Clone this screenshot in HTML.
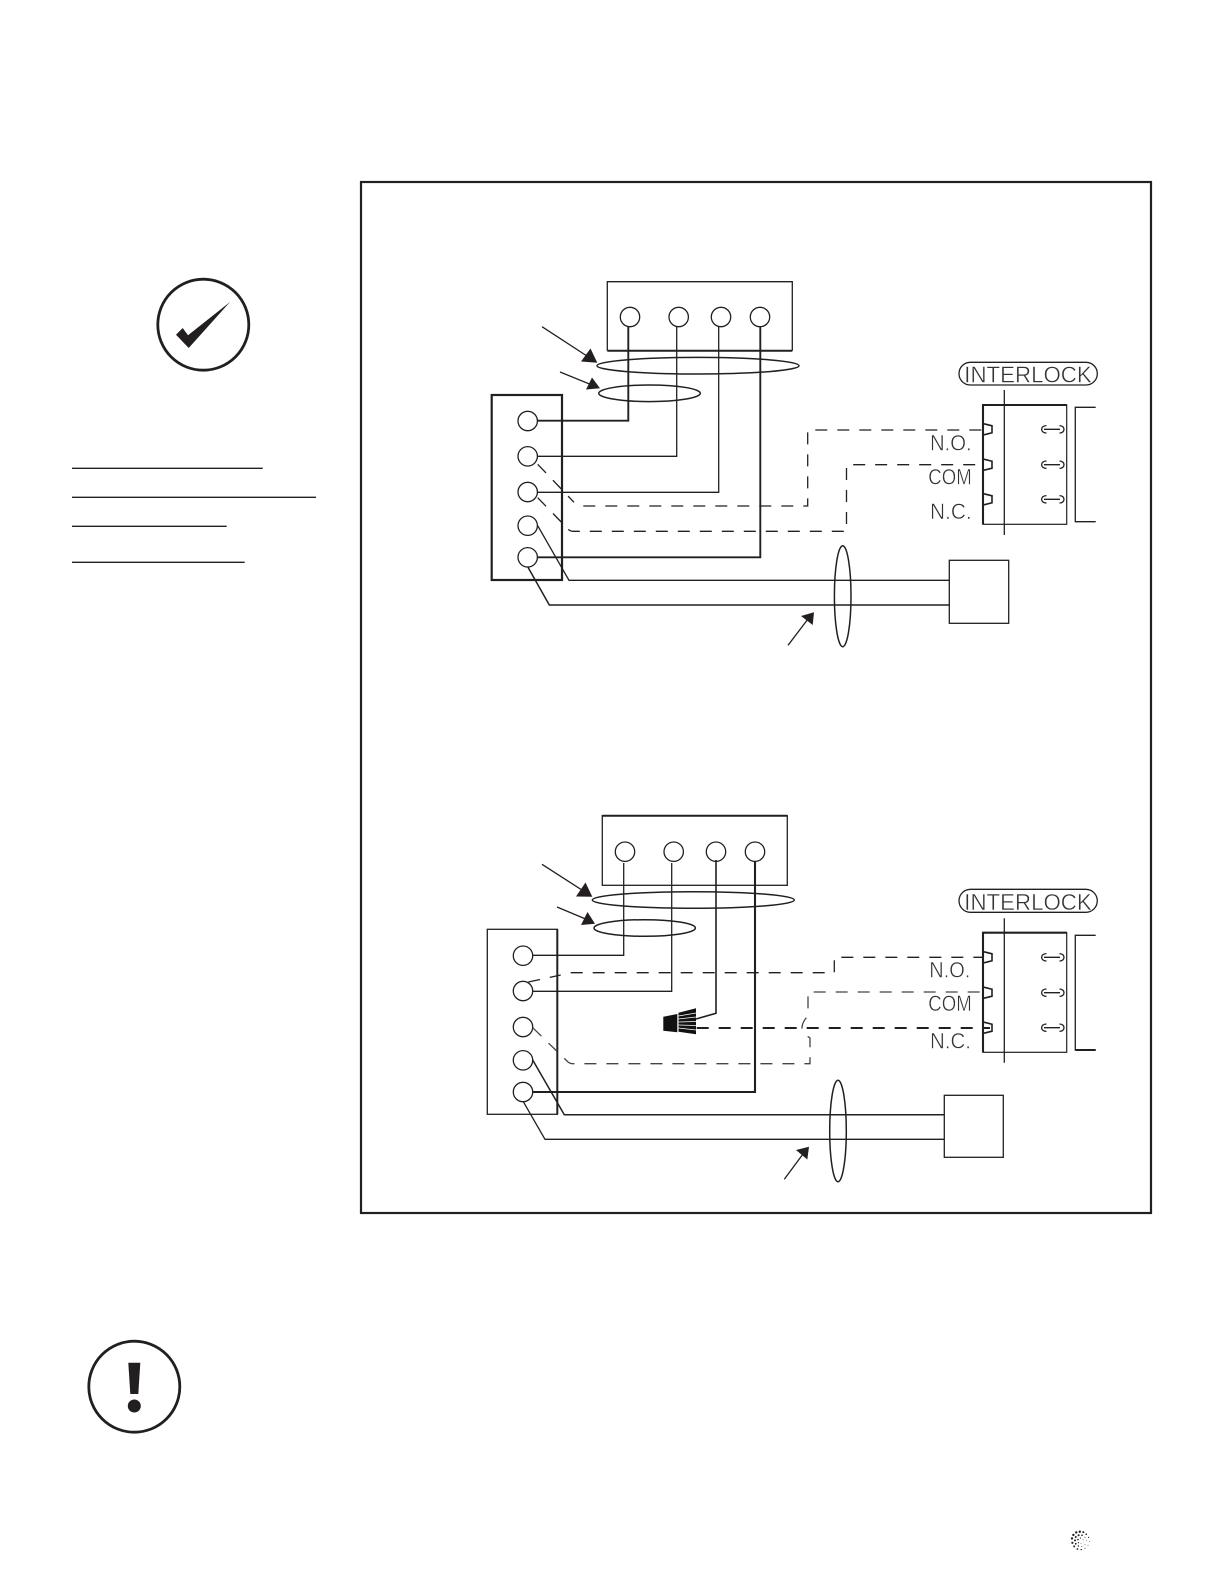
<!DOCTYPE html>
<html><head><meta charset="utf-8"><title>Wiring diagram</title>
<style>html,body{margin:0;padding:0;background:#fff}svg{display:block}
text{font-family:"Liberation Sans",sans-serif;fill:#333;stroke:#fff;stroke-width:.45}</style></head>
<body>
<svg xmlns="http://www.w3.org/2000/svg" width="1224" height="1584" viewBox="0 0 1224 1584">
<defs>
<g id="t" fill="none" stroke="#231f20" stroke-width="1.3">
<path d="M984,-5.5 L992,-3.5 V3.5 L984,5.5" stroke-width="1.6"/>
<path d="M1046.5,-3.7 C1040,-3.7 1040,3.7 1046.5,3.7 M1044,0 H1060 M1059.5,-3.7 C1065.5,-3.7 1065.5,3.7 1059.5,3.7"/>
</g>
</defs>
<rect x="0" y="0" width="1224" height="1584" fill="#fff"/>
<rect x="361" y="182" width="790" height="1031" fill="none" stroke="#231f20" stroke-width="2.2"/>

<!-- check icon -->
<circle cx="203.3" cy="324.7" r="45.5" fill="none" stroke="#231f20" stroke-width="2.8"/>
<polygon points="176,334.7 182.7,328 188,335.3 230,302 188.7,348" fill="#231f20"/>
<g stroke="#231f20" stroke-width="1.4">
<line x1="72" y1="468.3" x2="262.7" y2="468.3"/>
<line x1="72" y1="497.3" x2="316" y2="497.3"/>
<line x1="72" y1="526.3" x2="226.7" y2="526.3"/>
<line x1="72" y1="562.3" x2="244.7" y2="562.3"/>
</g>

<!-- warning icon -->
<circle cx="134.3" cy="1386.7" r="45.5" fill="none" stroke="#231f20" stroke-width="2.8"/>
<polygon points="128.3,1362.7 140.3,1362.7 138.3,1394 130.3,1394" fill="#231f20"/>
<circle cx="134.3" cy="1406" r="6.5" fill="#231f20"/>

<!-- TOP DIAGRAM -->
<g fill="none" stroke="#231f20" stroke-width="1.3">
<path d="M607.3,350.7 V281.7 H792.3 V350.7"/>
<line x1="607.3" y1="350.7" x2="792.3" y2="350.7" stroke-width="2"/>
<circle cx="630" cy="317" r="9.7"/><circle cx="678.7" cy="317" r="9.7"/><circle cx="721" cy="317" r="9.7"/><circle cx="760" cy="317" r="9.7"/>
<ellipse cx="698" cy="365.7" rx="101" ry="8.3" stroke-width="1.5"/>
<ellipse cx="649.5" cy="393.3" rx="50.8" ry="8.3" stroke-width="1.5"/>
<rect x="491.7" y="395" width="70.3" height="185" stroke-width="2.2"/>
<circle cx="527.7" cy="421" r="9.7"/><circle cx="527.7" cy="456.3" r="9.7"/><circle cx="527.7" cy="492" r="9.7"/><circle cx="527.7" cy="525.7" r="9.7"/><circle cx="527.7" cy="557.3" r="9.7"/>
<path d="M628.3,326.7 V420.7 H537.7" stroke-width="1.9"/>
<path d="M676.7,326.7 V456.3 H537.7"/>
<path d="M718.7,326.7 V492.3 H537.7"/>
<path d="M760.3,326.7 V557.3 H537.7" stroke-width="1.9"/>
<path d="M537.7,525.7 L569,580.3 H949.3"/>
<path d="M527.7,566.7 L549.3,605 H949.3" stroke-width="1.5"/>
<ellipse cx="842.7" cy="596.2" rx="8.3" ry="50.5" stroke-width="1.5"/>
<rect x="949.3" y="560.3" width="59.4" height="63"/>
<path d="M537.7,464.3 L574,502.3 M583.3,506 H807.7 V430 H984" stroke-dasharray="12 10"/>
<path d="M537.7,497.7 L568,529 Q570,531.3 573,531.3 H846.5 V464.7 H984" stroke-dasharray="12 10"/>
<path d="M542,326.7 L590,358 M560,372 L592,385 M788,645.3 L808,619"/>
<!-- relay -->
<rect x="983" y="405" width="83.7" height="119.3" stroke-width="1.2"/>
<path d="M983,524.3 V405 H1066.7" stroke-width="2.1"/>
<line x1="1004.3" y1="390" x2="1004.3" y2="535"/>
<path d="M1095.7,407.3 H1075.3 V521.7 H1095.7"/>
<rect x="959" y="362.3" width="138.3" height="22.7" rx="11.3"/>
</g>
<polygon points="597.3,362.7 581,361.5 590.5,348.5" fill="#231f20"/>
<polygon points="600,388.3 586,389.5 592,377.5" fill="#231f20"/>
<polygon points="814,612.3 801,616 812.7,625" fill="#231f20"/>
<use href="#t" x="0" y="429.3"/><use href="#t" x="0" y="464.7"/><use href="#t" x="0" y="499.3"/>
<text x="964.3" y="382.7" font-size="23" textLength="127.4" lengthAdjust="spacingAndGlyphs">INTERLOCK</text>
<text x="930" y="450.7" font-size="22" textLength="41.7" lengthAdjust="spacingAndGlyphs">N.O.</text>
<text x="928.3" y="484.3" font-size="22" textLength="43.4" lengthAdjust="spacingAndGlyphs">COM</text>
<text x="930" y="519" font-size="22" textLength="41.7" lengthAdjust="spacingAndGlyphs">N.C.</text>

<!-- BOTTOM DIAGRAM -->
<g fill="none" stroke="#231f20" stroke-width="1.3">
<path d="M602.3,815.7 H787.3" stroke-width="2"/>
<rect x="602.3" y="815.7" width="185" height="69.6"/>
<circle cx="625" cy="851.7" r="9.7"/><circle cx="673.7" cy="851.7" r="9.7"/><circle cx="716" cy="851.7" r="9.7"/><circle cx="755" cy="851.7" r="9.7"/>
<ellipse cx="693.3" cy="900" rx="101" ry="8.3" stroke-width="1.5"/>
<ellipse cx="644.7" cy="928" rx="50.7" ry="8.3" stroke-width="1.5"/>
<rect x="487.3" y="929.3" width="70" height="185"/>
<line x1="557.3" y1="929.3" x2="557.3" y2="1114.3" stroke-width="2"/>
<circle cx="523" cy="955.7" r="9.7"/><circle cx="523" cy="991" r="9.7"/><circle cx="523" cy="1027" r="9.7"/><circle cx="523" cy="1060.3" r="9.7"/><circle cx="523" cy="1092" r="9.7"/>
<path d="M623.7,863 V955.3 H532.7"/>
<path d="M671.7,863 V991.3 H532.7"/>
<path d="M716,860 V1013.3 L696,1019" stroke-width="1.6"/>
<path d="M755,861 V1092 H533" stroke-width="2.1"/>
<path d="M532.7,1060 L564.3,1114.7 H944.3" stroke-width="1.5"/>
<path d="M523.3,1101.7 L545,1139.3 H944.3"/>
<ellipse cx="838" cy="1131" rx="8.3" ry="50.7" stroke-width="1.5"/>
<rect x="944.3" y="1095.3" width="59" height="62"/>
<path d="M528.3,982 L560.7,975 M570.7,972.7 H834.3 V957.3 H984" stroke-dasharray="12 10"/>
<path d="M532.7,1027.7 L568,1062 Q570,1063.7 573,1063.7 H810 V1038 Q802,1033 802,1028 Q802,1022 808,1016 V992 H984" stroke-dasharray="12 10" stroke="#444"/>
<path d="M696.7,1028 H990" stroke-dasharray="12 10" stroke-width="2"/>
<path d="M542,864.3 L585,892 M557,907 L588,920 M784.3,1179.3 L803,1154"/>
<rect x="983" y="932.7" width="83.7" height="119.6" stroke-width="1.2"/>
<path d="M983,1052.3 V932.7 H1066.7" stroke-width="2.1"/>
<line x1="1004.3" y1="918.3" x2="1004.3" y2="1062.7"/>
<path d="M1095.7,935.3 H1075.3 V1050 H1095.7"/>
<line x1="1075.3" y1="1050" x2="1095.7" y2="1050" stroke-width="2"/>
<rect x="959" y="889.3" width="138.3" height="23" rx="11.5"/>
</g>
<polygon points="592.3,896.7 576,896.5 585.5,882.5" fill="#231f20"/>
<polygon points="595,923.7 581,925 587.5,912" fill="#231f20"/>
<polygon points="809,1146.7 796,1150 807.3,1159.5" fill="#231f20"/>
<use href="#t" x="0" y="957.3"/><use href="#t" x="0" y="992.7"/><use href="#t" x="0" y="1027.7"/>
<text x="964.3" y="910" font-size="23" textLength="127.4" lengthAdjust="spacingAndGlyphs">INTERLOCK</text>
<text x="929.3" y="977.7" font-size="22" textLength="41" lengthAdjust="spacingAndGlyphs">N.O.</text>
<text x="928.3" y="1011" font-size="22" textLength="43.4" lengthAdjust="spacingAndGlyphs">COM</text>
<text x="930" y="1048.3" font-size="22" textLength="41" lengthAdjust="spacingAndGlyphs">N.C.</text>

<!-- wire nut -->
<polygon points="663.3,1016.7 677.3,1014 677.3,1032.3 663.3,1030.7" fill="#111"/>
<polygon points="678.5,1012.7 696,1008.3 696,1034.3 678.5,1031.7" fill="#111"/>
<g stroke="#fff" stroke-width="0.8">
<line x1="678.5" y1="1016" x2="696" y2="1013"/>
<line x1="678.5" y1="1019" x2="696" y2="1017"/>
<line x1="678.5" y1="1022" x2="696" y2="1021.5"/>
<line x1="678.5" y1="1025" x2="696" y2="1025.5"/>
<line x1="678.5" y1="1028" x2="696" y2="1030"/>
</g>

<!-- logo -->
<g fill="#231f20">
<circle cx="1072" cy="1538.4" r="1.2"/><circle cx="1073.4" cy="1534.9" r="1.2"/><circle cx="1076.2" cy="1532.4" r="1.2"/><circle cx="1079.8" cy="1531.7" r="1.2"/><circle cx="1083.3" cy="1532.1" r="1"/><circle cx="1086.2" cy="1534.2" r="0.8"/><circle cx="1088.6" cy="1537.4" r="0.6"/><circle cx="1072.4" cy="1542.8" r="1.1"/><circle cx="1074.2" cy="1546.4" r="1"/><circle cx="1077.4" cy="1549" r="0.9"/><circle cx="1081.2" cy="1549.6" r="0.7"/><circle cx="1085" cy="1548.3" r="0.5"/><circle cx="1088" cy="1545.2" r="0.4"/><circle cx="1089.4" cy="1541.4" r="0.4"/>
<circle cx="1075" cy="1540.4" r="1"/><circle cx="1075.8" cy="1537" r="1"/><circle cx="1078.6" cy="1535.2" r="1"/><circle cx="1082" cy="1535.2" r="0.8"/><circle cx="1085" cy="1537.2" r="0.5"/><circle cx="1086.3" cy="1540.6" r="0.4"/><circle cx="1075.8" cy="1543.8" r="0.9"/><circle cx="1078.4" cy="1546" r="0.7"/><circle cx="1081.8" cy="1546.4" r="0.5"/><circle cx="1085" cy="1544.4" r="0.4"/>
<circle cx="1078" cy="1539.6" r="0.8"/><circle cx="1080.4" cy="1538" r="0.6"/><circle cx="1083" cy="1539.4" r="0.4"/><circle cx="1078.4" cy="1542.6" r="0.6"/><circle cx="1081" cy="1543.4" r="0.4"/><circle cx="1083.4" cy="1542" r="0.3"/>
</g>
</svg>
</body></html>
